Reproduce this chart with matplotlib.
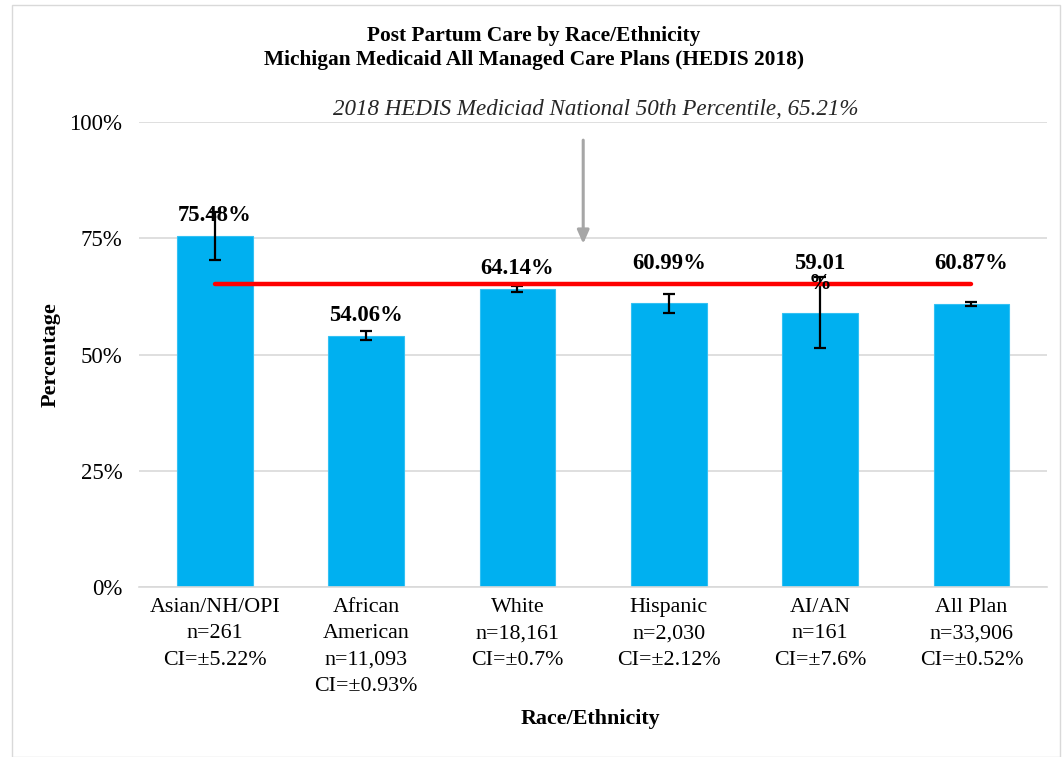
import numpy as np
import matplotlib.pyplot as plt
from matplotlib.patches import Rectangle

categories = ["Asian/NH/OPI\nn=261\nCI=\u00b15.22%",
              "African\nAmerican\nn=11,093\nCI=\u00b10.93%",
              "White\nn=18,161\nCI=\u00b10.7%",
              "Hispanic\nn=2,030\nCI=\u00b12.12%",
              "AI/AN\nn=161\nCI=\u00b17.6%",
              "All Plan\nn=33,906\nCI=\u00b10.52%"]
rates = [75.48, 54.06, 64.14, 60.99, 59.01, 60.87]
ci = [5.22, 0.93, 0.7, 2.12, 7.6, 0.52]
value_labels = ["75.48%", "54.06%", "64.14%", "60.99%", "59.01\n%", "60.87%"]
benchmark = 65.21
benchmark_label = "2018 HEDIS Mediciad National 50th Percentile, 65.21%"

plt.rcParams['font.family'] = ['Liberation Serif', 'DejaVu Serif']

fig = plt.figure(figsize=(10.63, 7.57), dpi=100)
ax = fig.add_axes([0.1308, 0.2246, 0.8542, 0.6142])

x = np.arange(len(categories))
ax.bar(x, rates, width=0.5, color='#00B0F0', edgecolor='#33C1F3', linewidth=0.8, zorder=2)
ax.errorbar(x, rates, yerr=ci, fmt='none', ecolor='black', elinewidth=1.6,
            capsize=4.5, capthick=1.6, zorder=3)

# benchmark line from first to last bar center
ax.plot([x[0], x[-1]], [benchmark, benchmark], color='#FF0000', lw=3.2,
        solid_capstyle='round', zorder=4)

# value labels, moved up when they would sit on the red line
for xi, v, lab in zip(x, rates, value_labels):
    ty = v + 3.2
    if v < benchmark and benchmark - 3 < ty < benchmark + 2:
        ty = benchmark + 3.2
    for k, line in enumerate(lab.split("\n")):
        ax.annotate(line, (xi, ty), xytext=(0, -14.5 * k), textcoords='offset points',
                    ha='center', va='baseline', fontsize=16.4, fontweight='bold', zorder=5)

# benchmark callout
ax.annotate("", xy=(2.435, 73.2), xytext=(2.435, 96.7),
            arrowprops=dict(arrowstyle='-|>,head_width=0.35,head_length=0.8',
                            color='#A6A6A6', lw=2.2), zorder=4)
ax.text(2.52, 102.6, benchmark_label, ha='center', va='center', fontsize=16.6,
        style='italic', color='#262626')

ax.set_xlim(-0.5, len(categories) - 0.5)
ax.set_ylim(0, 100)
ax.set_yticks([0, 25, 50, 75, 100])
ax.set_yticklabels([f"{t}%" for t in [0, 25, 50, 75, 100]], fontsize=16.5)
ax.set_xticks(x)
ax.set_xticklabels(categories, fontsize=15.8, linespacing=1.52, va='top')
ax.tick_params(axis='both', length=0)
ax.tick_params(axis='y', pad=12)
ax.tick_params(axis='x', pad=8)
ax.yaxis.grid(True, color='#D9D9D9', lw=1.2, zorder=0)
ax.set_axisbelow(True)
for s in ['top', 'right', 'left']:
    ax.spines[s].set_visible(False)
ax.spines['bottom'].set_color('#D9D9D9')
ax.spines['bottom'].set_linewidth(1.2)

ax.set_ylabel("Percentage", fontsize=16, fontweight='bold', labelpad=6)
fig.text(0.555, 0.05, "Race/Ethnicity", ha='center', va='center', fontsize=15.8,
         fontweight='bold')
fig.text(0.502, 0.937, "Post Partum Care by Race/Ethnicity\nMichigan Medicaid All Managed Care Plans (HEDIS 2018)",
         ha='center', va='center', fontsize=15.4, fontweight='bold', linespacing=1.25)

fig.patches.append(Rectangle((12 / 1063, 0), 1048 / 1063, 752 / 757, transform=fig.transFigure,
                             fill=False, edgecolor='#D9D9D9', lw=1))

fig.savefig("out.png", dpi=100)
